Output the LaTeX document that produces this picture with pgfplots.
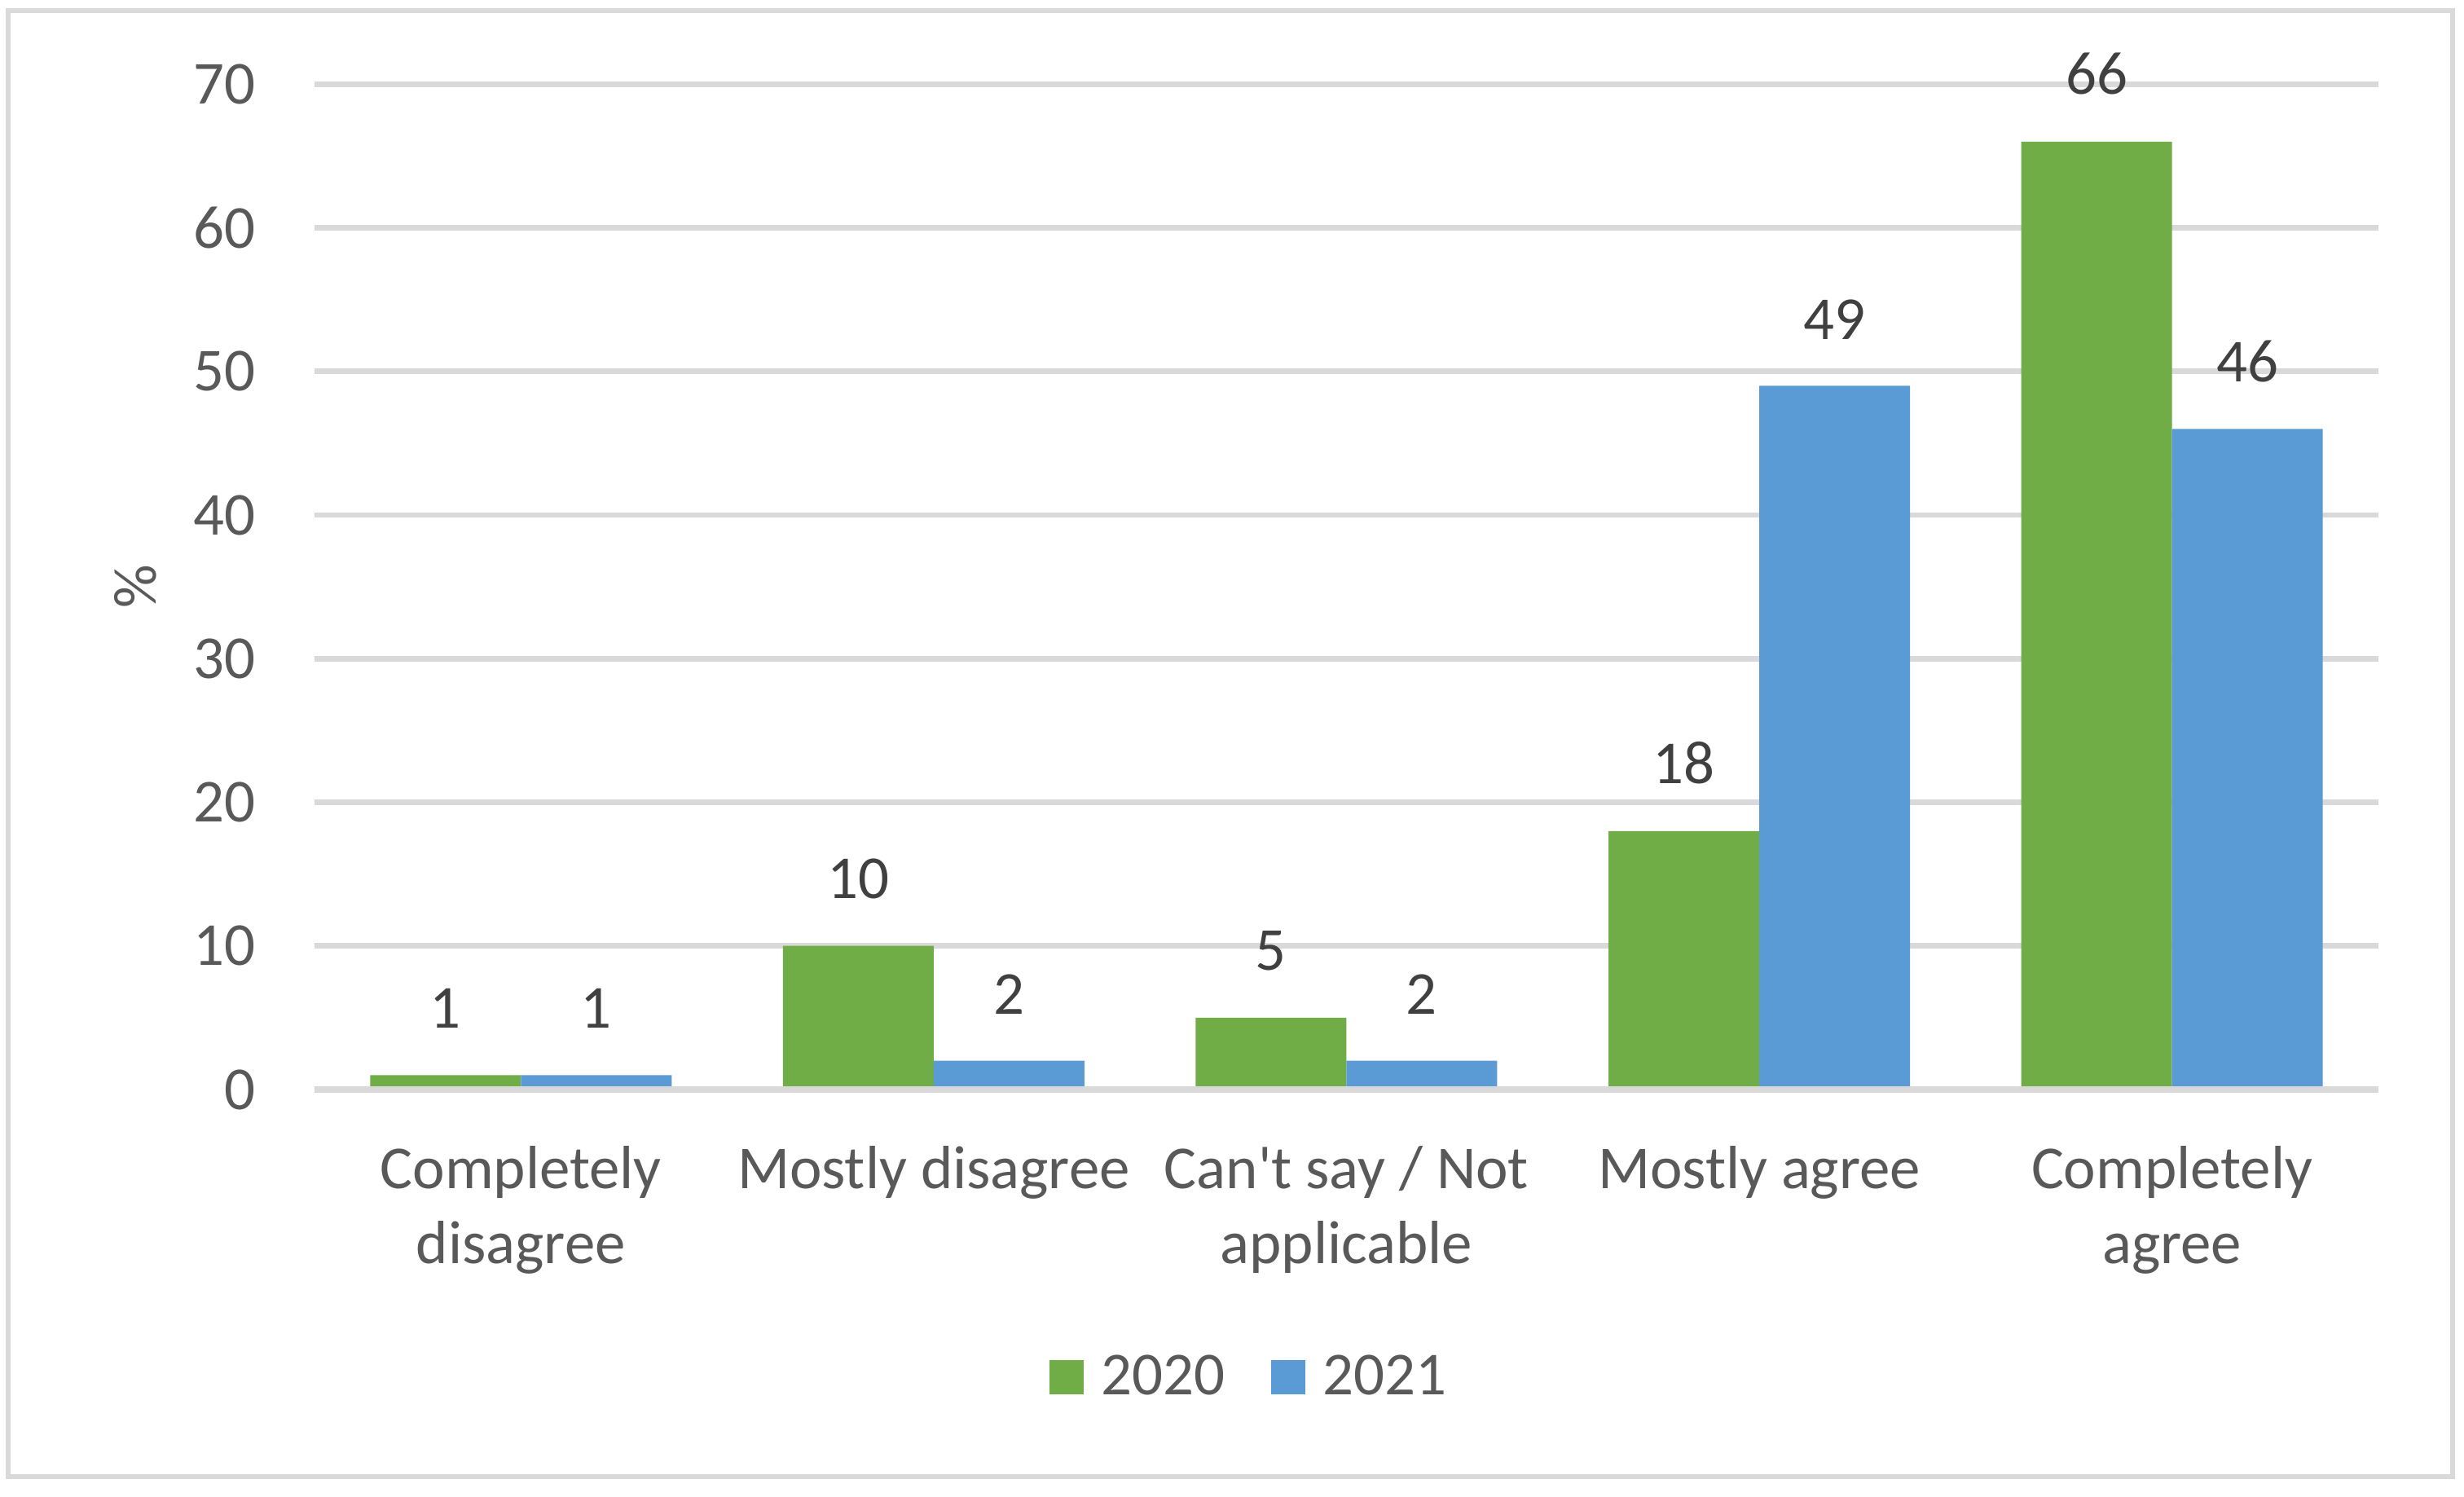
\documentclass[border=0pt]{standalone}
\usepackage{fontspec}
\setmainfont{Carlito}
\usepackage{pgfplots}
\pgfplotsset{compat=1.18}
\definecolor{cgreen}{HTML}{70AD47}
\definecolor{cblue}{HTML}{5B9BD5}
\definecolor{cgrid}{HTML}{D9D9D9}
\definecolor{ctext}{HTML}{595959}
\definecolor{clabel}{HTML}{404040}
\newcommand{\cfont}{\fontsize{10.7pt}{13.14pt}\selectfont}
\begin{document}
\begin{tikzpicture}
\path[use as bounding box, fill=white] (0,0) rectangle (432pt,262.43pt);
\draw[cgrid, line width=0.86pt] (1.36pt,3.57pt) rectangle (430pt,260.5pt);
\begin{axis}[
  at={(55.14pt,71.43pt)}, anchor=south west,
  scale only axis, width=361.86pt, height=176.24pt,
  xmin=-0.5, xmax=4.5, ymin=0, ymax=70,
  ybar=0pt, bar width=26.43pt,
  axis line style={draw=none},
  major tick length=0pt,
  ytick={0,10,...,70},
  ymajorgrids, grid style={cgrid, line width=0.95pt},
  xtick={0,1,2,3,4},
  xticklabels={Completely\\disagree, Mostly disagree, Can\textquotesingle{}t say / Not\\applicable, Mostly agree, Completely\\agree},
  xticklabel style={align=center, font=\cfont, text=ctext, inner sep=0pt, anchor=north, yshift=-9.7pt},
  yticklabel style={font=\cfont, text=ctext, inner sep=0pt, anchor=east, xshift=-10.1pt},
  /pgf/number format/assume math mode=true,
  ylabel={\%},
  ylabel style={font=\cfont, text=ctext, at={(axis description cs:-0.0869,0.5)}, anchor=center},
  nodes near coords,
  every node near coord/.append style={font=\cfont, text=clabel, inner sep=0pt, anchor=south, yshift=8pt},
  legend columns=2,
  legend style={at={(axis description cs:0.4523,-0.3119)}, anchor=south, draw=none, fill=none,
    inner sep=0pt, outer sep=0pt, font=\cfont, text=ctext, nodes={inner sep=0pt},
    cells={anchor=base west},
    /tikz/every even column/.append style={column sep=8pt}},
  legend image code/.code={\fill[#1] (0pt,0pt) rectangle (6pt,6pt); \path (9.1pt,0pt);},
  clip=false,
]
\addplot[fill=cgreen, draw=none] coordinates {(0,1) (1,10) (2,5) (3,18) (4,66)};
\addplot[fill=cblue, draw=none] coordinates {(0,1) (1,2) (2,2) (3,49) (4,46)};
\legend{2020, 2021}
\draw[cgrid, line width=1.14pt] (axis cs:-0.5,0) -- (axis cs:4.5,0);
\end{axis}
\end{tikzpicture}
\end{document}
